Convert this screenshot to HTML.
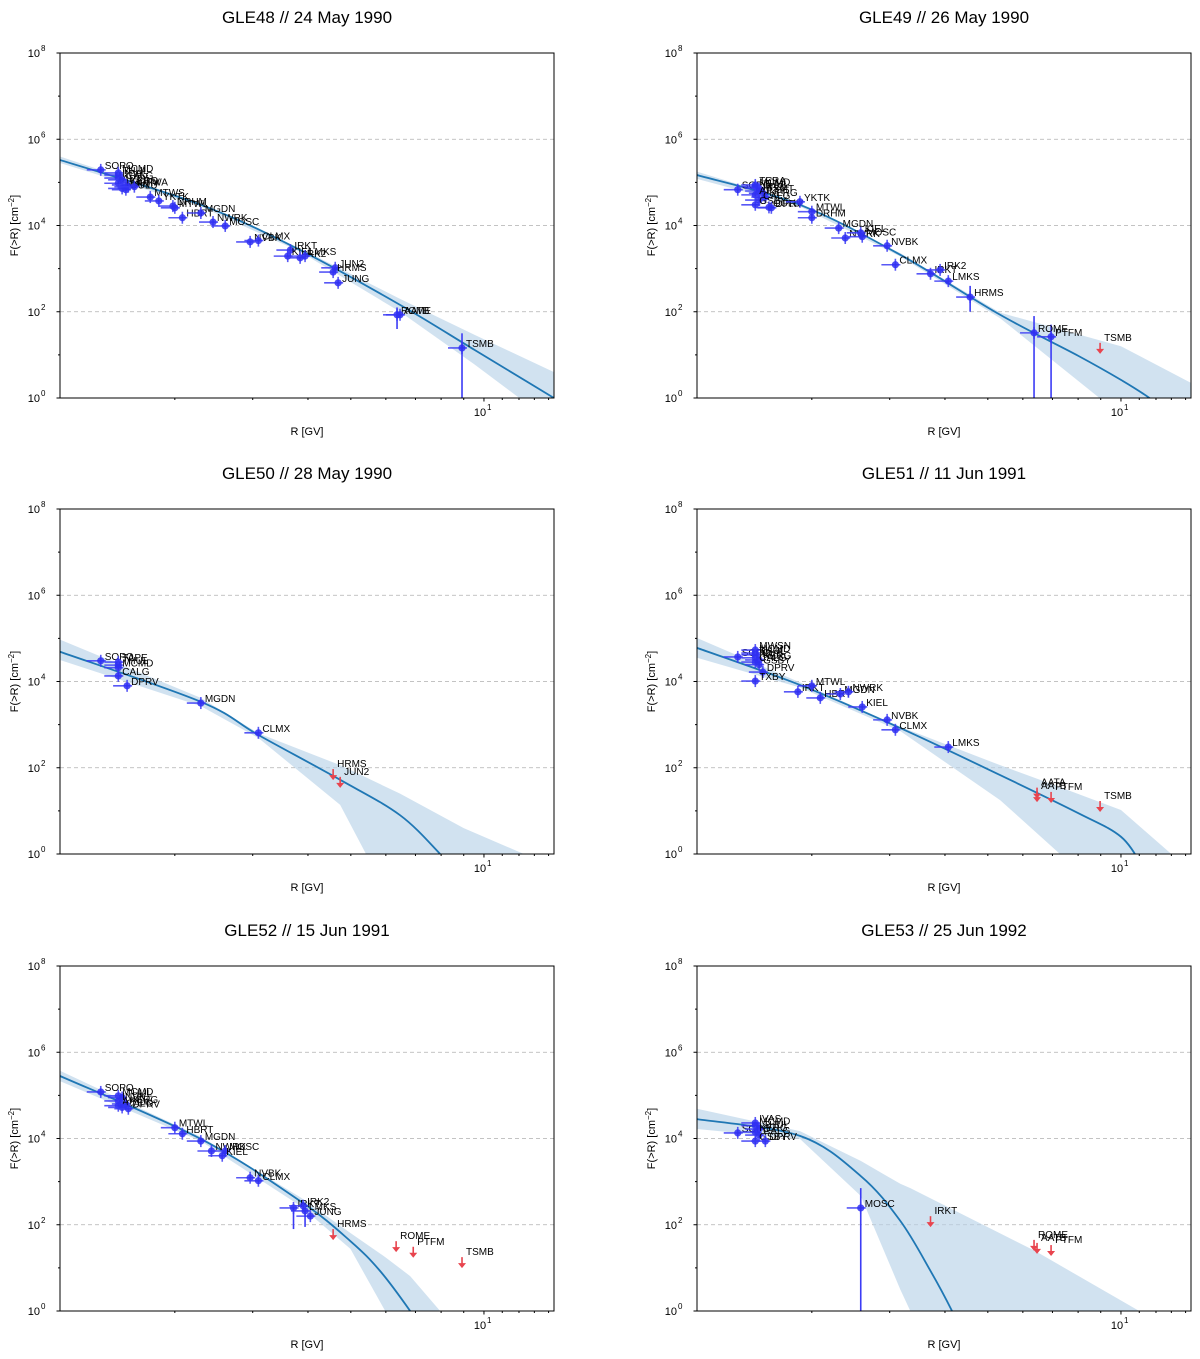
<!DOCTYPE html>
<html><head><meta charset="utf-8"><style>
html,body{margin:0;background:#fff;font-family:"Liberation Sans","DejaVu Sans",sans-serif;overflow:hidden;width:1200px;height:1359px}
svg{display:block}
</style></head><body>
<svg id="fig" width="1200" height="1359" viewBox="0 0 1200 1359" xmlns="http://www.w3.org/2000/svg" font-family="Liberation Sans, DejaVu Sans, sans-serif"></svg>
<script>
// ---- data (R in GV, log10 of F in cm^-2) ----
const gle48_title = "GLE48 // 24 May 1990";
const gle48_names = ["SOPO","MCMD","THUL","INVK","APTY","CALG","KERG","NAIN","OULU","DPRV","OTWA","MTWS","YKTK","DRHM","MTWL","HBRT","MGDN","NWRK","MOSC","NVBK","CLMX","IRKT","KIEL","IRK2","LMKS","JUN2","HRMS","JUNG","ROME","AATB","TSMB"];
const gle48_R = [1.36,1.49,1.49,1.49,1.49,1.52,1.55,1.52,1.55,1.57,1.62,1.76,1.84,1.98,2.0,2.08,2.29,2.44,2.60,2.96,3.09,3.65,3.60,3.84,3.94,4.61,4.56,4.68,6.36,6.46,8.92];
const gle48_logF = [5.29,5.22,5.17,5.10,4.98,5.06,4.94,4.86,4.83,4.90,4.90,4.66,4.57,4.45,4.41,4.18,4.29,4.08,3.99,3.62,3.65,3.43,3.29,3.25,3.29,3.02,2.92,2.67,1.93,1.93,1.16];
const gle48_upper = [];
const gle48_bigErr = [[28,2.1,1.6],[30,1.5,-1]];
const gle48_fitR = [1.10,2.29,3.84,6.46,9.54,14.4];
const gle48_fitLogF = [5.52,4.48,3.43,2.16,1.11,0.0];
const gle48_bandR = [1.10,2.29,3.84,6.46,9.54,14.4];
const gle48_bandHi = [5.60,4.52,3.47,2.30,1.46,0.60];
const gle48_bandLo = [5.45,4.44,3.39,2.00,0.77,-0.6];

const gle49_title = "GLE49 // 26 May 1990";
const gle49_names = ["SOPO","TERA","MCMD","THUL","INVK","FSMT","APTY","KERG","CALG","GSBY","OULU","DPRV","YKTK","MTWL","DRHM","MGDN","NWRK","KIEL","MOSC","NVBK","CLMX","IRKT","IRK2","LMKS","HRMS","ROME","PTFM","TSMB"];
const gle49_R = [1.36,1.49,1.49,1.52,1.52,1.55,1.49,1.57,1.52,1.49,1.60,1.62,1.88,2.0,2.0,2.30,2.38,2.58,2.60,2.96,3.09,3.71,3.90,4.07,4.56,6.36,6.95,8.97];
const gle49_logF = [4.83,4.94,4.90,4.86,4.80,4.75,4.71,4.66,4.59,4.48,4.42,4.41,4.55,4.32,4.18,3.94,3.71,3.83,3.74,3.53,3.09,2.88,2.97,2.71,2.34,1.51,1.42,1.14];
const gle49_upper = ["TSMB"];
const gle49_bigErr = [[24,2.6,2.0],[25,1.9,-1],[26,1.7,-1]];
const gle49_fitR = [1.10,1.88,3.17,5.33,8.0,10.0,11.6,12.6];
const gle49_fitLogF = [5.17,4.48,3.32,1.93,0.98,0.42,0.0,-0.3];
const gle49_bandR = [1.10,1.88,3.17,5.33,10.0,14.4];
const gle49_bandHi = [5.25,4.52,3.36,1.98,1.20,0.35];
const gle49_bandLo = [5.08,4.44,3.28,1.85,-0.4,-1.5];

const gle50_title = "GLE50 // 28 May 1990";
const gle50_names = ["SOPO","TAPE","THUL","MCMD","CALG","DPRV","MGDN","CLMX","HRMS","JUN2"];
const gle50_R = [1.36,1.49,1.49,1.49,1.49,1.56,2.29,3.09,4.56,4.73];
const gle50_logF = [4.48,4.45,4.38,4.32,4.13,3.90,3.50,2.81,1.83,1.65];
const gle50_upper = ["HRMS","JUN2"];
const gle50_bigErr = [];
const gle50_fitR = [1.10,2.29,3.09,4.73,6.46,7.96,8.6];
const gle50_fitLogF = [4.69,3.53,2.76,1.72,0.90,0.0,-0.4];
const gle50_bandR = [1.10,2.29,3.09,4.73,6.46,9.0,14.4];
const gle50_bandHi = [4.97,3.62,2.80,2.06,1.40,0.6,-0.3];
const gle50_bandLo = [4.50,3.43,2.69,1.14,-1.5,-3.0,-4.0];

const gle51_title = "GLE51 // 11 Jun 1991";
const gle51_names = ["SOPO","MWSN","MCMD","THUL","INVK","KERG","CALG","GSBY","DPRV","TXBY","IRKT","MTWL","HBRT","MGDN","NWRK","KIEL","NVBK","CLMX","LMKS","AATA","AATB","PTFM","TSMB"];
const gle51_R = [1.36,1.49,1.49,1.49,1.49,1.52,1.49,1.52,1.55,1.49,1.86,2.0,2.09,2.32,2.42,2.60,2.96,3.09,4.07,6.46,6.46,6.95,8.97];
const gle51_logF = [4.57,4.73,4.66,4.62,4.55,4.50,4.45,4.39,4.22,4.01,3.76,3.90,3.62,3.71,3.76,3.41,3.11,2.88,2.48,1.40,1.32,1.30,1.09];
const gle51_upper = ["AATA","AATB","PTFM","TSMB"];
const gle51_bigErr = [];
const gle51_fitR = [1.10,1.88,3.17,5.33,8.0,10.0,11.2];
const gle51_fitLogF = [4.78,3.92,2.92,1.83,0.95,0.40,-0.3];
const gle51_bandR = [1.10,1.88,3.17,5.33,7.28,10.0,13.0,14.4];
const gle51_bandHi = [5.01,3.98,2.95,2.06,1.55,1.02,0.0,-0.4];
const gle51_bandLo = [4.55,3.86,2.85,1.25,0.0,-1.5,-3.0,-3.5];

const gle52_title = "GLE52 // 15 Jun 1991";
const gle52_names = ["SOPO","MCMD","THUL","INVK","KERG","APTY","CALG","DPRV","MTWL","HBRT","MGDN","NWRK","MOSC","KIEL","NVBK","CLMX","IRKT","IRK2","LMKS","JUNG","HRMS","ROME","PTFM","TSMB"];
const gle52_R = [1.36,1.49,1.52,1.49,1.55,1.49,1.52,1.57,2.0,2.08,2.29,2.42,2.60,2.56,2.96,3.09,3.71,3.90,3.94,4.05,4.56,6.33,6.92,8.92];
const gle52_logF = [5.08,4.99,4.95,4.87,4.80,4.76,4.72,4.69,4.25,4.11,3.94,3.71,3.71,3.60,3.09,3.02,2.39,2.44,2.32,2.20,1.76,1.48,1.35,1.11];
const gle52_upper = ["HRMS","ROME","PTFM","TSMB"];
const gle52_bigErr = [[16,2.39,1.9],[18,2.32,1.95]];
const gle52_fitR = [1.10,2.29,3.84,4.99,5.82,6.81,7.3];
const gle52_fitLogF = [5.45,3.99,2.55,1.62,0.93,0.0,-0.5];
const gle52_bandR = [1.10,2.29,3.84,4.99,5.98,6.81,7.96,14.4];
const gle52_bandHi = [5.57,4.04,2.64,1.81,1.25,0.81,0.0,-3.0];
const gle52_bandLo = [5.33,3.94,2.44,1.44,0.0,-0.9,-2.0,-5.0];

const gle53_title = "GLE53 // 25 Jun 1992";
const gle53_names = ["SOPO","IVAS","MCMD","THUL","KERG","CALG","GSBY","DPRV","MOSC","IRKT","ROME","AATB","PTFM"];
const gle53_R = [1.36,1.49,1.49,1.52,1.49,1.52,1.49,1.57,2.58,3.71,6.36,6.46,6.95];
const gle53_logF = [4.13,4.36,4.30,4.22,4.15,4.08,3.94,3.94,2.39,2.06,1.51,1.44,1.39];
const gle53_upper = ["IRKT","ROME","AATB","PTFM"];
const gle53_bigErr = [[8,2.85,-1]];
const gle53_fitR = [1.10,1.88,2.58,3.17,3.71,4.15,4.4];
const gle53_fitLogF = [4.45,4.06,3.13,2.09,0.93,0.0,-0.6];
const gle53_bandR = [1.10,1.88,2.58,3.17,3.34,6.4,11.0,14.4];
const gle53_bandHi = [4.69,4.17,3.48,2.95,2.85,1.39,0.0,-0.6];
const gle53_bandLo = [4.22,3.99,2.67,0.5,0.0,-3.0,-4.0,-4.0];

const yTickLabels = ["0","2","4","6","8"];
// ---- drawing ----
const NS="http://www.w3.org/2000/svg";
const svg=document.getElementById('fig');
function mk(tag,attrs,parent){const e=document.createElementNS(NS,tag);for(const k in attrs)e.setAttribute(k,attrs[k]);(parent||svg).appendChild(e);return e;}
const panels=[
 {t:gle48_title,n:gle48_names,R:gle48_R,F:gle48_logF,u:gle48_upper,be:gle48_bigErr,fR:gle48_fitR,fF:gle48_fitLogF,bR:gle48_bandR,bH:gle48_bandHi,bL:gle48_bandLo,x0:60,y0:53},
 {t:gle49_title,n:gle49_names,R:gle49_R,F:gle49_logF,u:gle49_upper,be:gle49_bigErr,fR:gle49_fitR,fF:gle49_fitLogF,bR:gle49_bandR,bH:gle49_bandHi,bL:gle49_bandLo,x0:697,y0:53},
 {t:gle50_title,n:gle50_names,R:gle50_R,F:gle50_logF,u:gle50_upper,be:gle50_bigErr,fR:gle50_fitR,fF:gle50_fitLogF,bR:gle50_bandR,bH:gle50_bandHi,bL:gle50_bandLo,x0:60,y0:509},
 {t:gle51_title,n:gle51_names,R:gle51_R,F:gle51_logF,u:gle51_upper,be:gle51_bigErr,fR:gle51_fitR,fF:gle51_fitLogF,bR:gle51_bandR,bH:gle51_bandHi,bL:gle51_bandLo,x0:697,y0:509},
 {t:gle52_title,n:gle52_names,R:gle52_R,F:gle52_logF,u:gle52_upper,be:gle52_bigErr,fR:gle52_fitR,fF:gle52_fitLogF,bR:gle52_bandR,bH:gle52_bandHi,bL:gle52_bandLo,x0:60,y0:966},
 {t:gle53_title,n:gle53_names,R:gle53_R,F:gle53_logF,u:gle53_upper,be:gle53_bigErr,fR:gle53_fitR,fF:gle53_fitLogF,bR:gle53_bandR,bH:gle53_bandHi,bL:gle53_bandLo,x0:697,y0:966}
];
const W=494,H=345,XMIN=Math.log10(1.1),XMAX=Math.log10(14.4);
function smooth(pts){
 let fd='M'+pts[0];
 for(let i=0;i<pts.length-1;i++){const p0=pts[i-1]||pts[i],p1=pts[i],p2=pts[i+1],p3=pts[i+2]||p2;
  fd+='C'+(p1[0]+(p2[0]-p0[0])/6)+','+(p1[1]+(p2[1]-p0[1])/6)+' '+(p2[0]-(p3[0]-p1[0])/6)+','+(p2[1]-(p3[1]-p1[1])/6)+' '+p2;}
 return fd;
}
panels.forEach((p,pi)=>{
 const xs=r=>p.x0+(Math.log10(r)-XMIN)/(XMAX-XMIN)*W;
 const ys=l=>p.y0+H-l/8*H;
 const g=mk('g',{});
 
 
 const cid='clip'+pi;
 const cp=mk('clipPath',{id:cid},g);mk('rect',{x:p.x0,y:p.y0,width:W,height:H},cp);
 const t=mk('text',{x:p.x0+W/2,y:p.y0-30,'text-anchor':'middle','font-size':17},g);t.textContent=p.t;
 
 [2,4,6,8].forEach(d=>{const l=mk('line',{x1:p.x0,x2:p.x0+W,y1:ys(d),y2:ys(d),stroke:'#b0b0b0','stroke-dasharray':'4,3','stroke-width':0.8},g);
  });
 const pc=mk('g',{'clip-path':'url(#'+cid+')'},g);
 const hi=p.bR.map((r,i)=>[xs(r),ys(p.bH[i])]);
 const lo=p.bR.map((r,i)=>[xs(r),ys(p.bL[i])]).reverse();
 const d='M'+hi.join('L')+'L'+lo.join('L')+'Z';
 const band=mk('path',{d:d,fill:'#b9d3e8','fill-opacity':0.65},pc);
 
 const pts=p.fR.map((r,i)=>[xs(r),ys(p.fF[i])]);
 const fit=mk('path',{d:smooth(pts),fill:'none',stroke:'#1f77b4','stroke-width':1.8},pc);
 
 p.be.forEach(e=>{const x=xs(p.R[e[0]]);const l=mk('line',{x1:x,x2:x,y1:ys(e[1]),y2:ys(e[2]),stroke:'#3b3bf5','stroke-width':1.6},pc);
  });
 p.n.forEach((nm,i)=>{
  const x=xs(p.R[i]),y=ys(p.F[i]);
  const pg=mk('g',{},pc);
  
  if(p.u.includes(nm)){
   mk('line',{x1:x,x2:x,y1:y-6,y2:y+3,stroke:'#e8444e','stroke-width':1.6},pg);
   mk('path',{d:`M${x-4},${y}L${x+4},${y}L${x},${y+5}Z`,fill:'#e8444e'},pg);
  }else{
   mk('line',{x1:x-14,x2:x+5,y1:y,y2:y,stroke:'#3b3bf5','stroke-width':1.6,'stroke-opacity':0.85},pg);
   mk('line',{x1:x,x2:x,y1:y-6,y2:y+6,stroke:'#3b3bf5','stroke-width':1.6,'stroke-opacity':0.85},pg);
   mk('circle',{cx:x,cy:y,r:3.6,fill:'#2f2ff2','fill-opacity':0.85},pg);
  }
  const tl=mk('text',{x:x+4,y:p.u.includes(nm)?y-8:y-1,'font-size':10,fill:'#000'},pg);tl.textContent=nm;
 });
 const fr=mk('rect',{x:p.x0,y:p.y0,width:W,height:H,fill:'none',stroke:'#000','stroke-width':1},g);
 
 for(let dd=0;dd<=8;dd++){const y=ys(dd);mk('line',{x1:p.x0-(dd%2?2:3.5),x2:p.x0,y1:y,y2:y,stroke:'#000'},g);}
 yTickLabels.forEach((lab,i)=>{const y=ys(+lab);
  const tx=mk('text',{x:p.x0-20,y:y+4,'text-anchor':'end','font-size':11},g);tx.textContent='10';
  
  const sp=mk('text',{x:p.x0-19,y:y-2,'font-size':8},g);sp.textContent=lab;});
 for(let v=2;v<=14;v++){if(v===10)continue;const x=xs(v);mk('line',{x1:x,x2:x,y1:p.y0+H,y2:p.y0+H+2,stroke:'#000'},g);}
 const x10=xs(10);mk('line',{x1:x10,x2:x10,y1:p.y0+H,y2:p.y0+H+3.5,stroke:'#000'},g);
 const xl=mk('text',{x:x10-4,y:p.y0+H+18,'text-anchor':'middle','font-size':11},g);xl.textContent='10';
 
 const xs1=mk('text',{x:x10+3,y:p.y0+H+12,'font-size':8},g);xs1.textContent='1';
 const xt=mk('text',{x:p.x0+W/2,y:p.y0+H+37,'text-anchor':'middle','font-size':11},g);xt.textContent='R [GV]';
 
 const yt=mk('text',{x:0,y:0,'text-anchor':'middle','font-size':11,transform:`translate(${p.x0-42},${p.y0+H/2}) rotate(-90)`},g);
 yt.innerHTML='F(&gt;R) [cm<tspan font-size="8" dy="-4">−2</tspan><tspan dy="4">]</tspan>';
 
});
</script>
</body></html>
